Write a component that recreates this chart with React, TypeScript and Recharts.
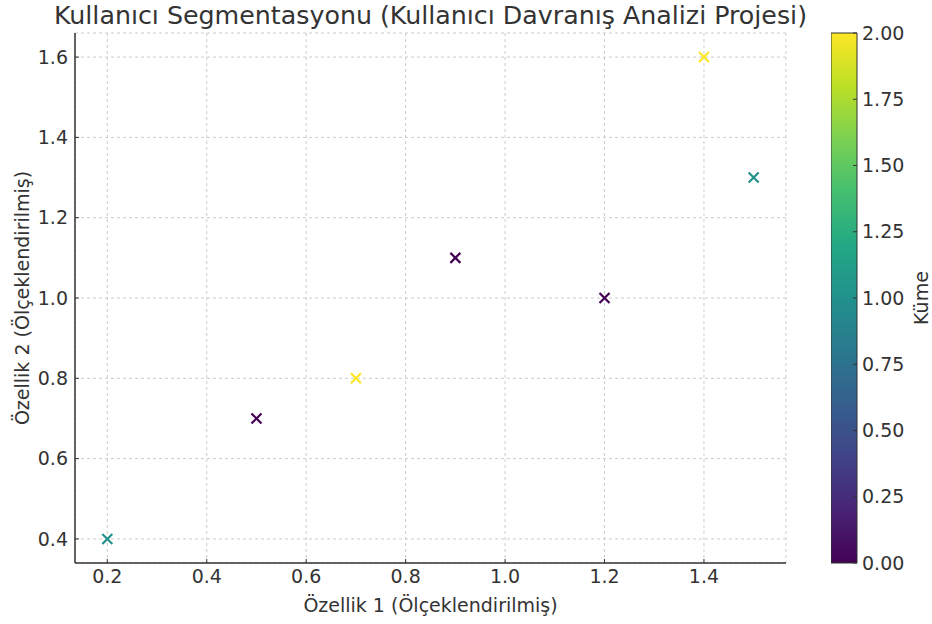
import React from 'react';
import { ScatterChart, Scatter, XAxis, YAxis, CartesianGrid, BarChart, Bar } from 'recharts';

const title = 'Kullanıcı Segmentasyonu (Kullanıcı Davranış Analizi Projesi)';
const xLabel = 'Özellik 1 (Ölçeklendirilmiş)';
const yLabel = 'Özellik 2 (Ölçeklendirilmiş)';
const colorbarLabel = 'Küme';

const feature1 = [0.2, 0.5, 0.7, 0.9, 1.2, 1.4, 1.5];
const feature2 = [0.4, 0.7, 0.8, 1.1, 1.0, 1.6, 1.3];
const clusters = [1, 0, 2, 0, 0, 2, 1];

const xTicks = [0.2, 0.4, 0.6, 0.8, 1.0, 1.2, 1.4];
const yTicks = [0.4, 0.6, 0.8, 1.0, 1.2, 1.4, 1.6];
const colorbarTicks = [0, 0.25, 0.5, 0.75, 1.0, 1.25, 1.5, 1.75, 2.0];

// viridis at 0, 1, 2
const clusterColors = ['#440154', '#21918c', '#fde725'];

const viridisStops = [
  '#440154', '#482475', '#414487', '#355f8d', '#2a788e', '#21918c',
  '#22a884', '#44bf70', '#7ad151', '#bddf26', '#fde725',
];

const FONT = '"DejaVu Sans", sans-serif';
const TEXT = '#333';
const FS = 19;

const points = feature1.map((x, i) => ({ x, y: feature2[i], cluster: clusters[i] }));
const colorbarData = [{ name: 'kume', value: 2 }];

function Cross(props: any) {
  const { cx, cy, payload } = props;
  if (cx == null || cy == null) return null;
  const c = clusterColors[payload.cluster];
  const r = 5;
  return (
    <g stroke={c} strokeWidth={2.2} strokeLinecap="butt">
      <line x1={cx - r} y1={cy - r} x2={cx + r} y2={cy + r} />
      <line x1={cx - r} y1={cy + r} x2={cx + r} y2={cy - r} />
    </g>
  );
}

const tickStyle = { fontSize: FS, fill: TEXT, fontFamily: FONT };

export default function App() {
  return (
    <div style={{ position: 'relative', width: 932, height: 624, background: '#fff', fontFamily: FONT }}>
      <style>{'body{margin:0}'}</style>
      <svg width={0} height={0} style={{ position: 'absolute' }}>
        <defs>
          <linearGradient id="viridis" x1="0" y1="1" x2="0" y2="0">
            {viridisStops.map((c, i) => (
              <stop key={i} offset={i / (viridisStops.length - 1)} stopColor={c} />
            ))}
          </linearGradient>
        </defs>
      </svg>

      <div style={{ position: 'absolute', left: 0, top: 0 }}>
        <ScatterChart width={932} height={624} margin={{ top: 33, right: 146, bottom: 11, left: 15 }}>
          <CartesianGrid stroke="#cccccc" strokeDasharray="3 3" />
          <XAxis
            type="number"
            dataKey="x"
            domain={[0.135, 1.565]}
            ticks={xTicks}
            allowDataOverflow
            tickFormatter={(v: number) => v.toFixed(1)}
            height={50}
            tick={tickStyle}
            tickSize={-4}
            tickMargin={11}
            axisLine={{ stroke: '#333', strokeWidth: 1.5 }}
            tickLine={{ stroke: '#333' }}
            label={{ value: xLabel, position: 'insideBottom', offset: 1, style: { fontSize: FS, fill: TEXT, fontFamily: FONT } }}
          />
          <YAxis
            type="number"
            dataKey="y"
            domain={[0.34, 1.66]}
            ticks={yTicks}
            allowDataOverflow
            tickFormatter={(v: number) => v.toFixed(1)}
            width={60}
            tick={tickStyle}
            tickSize={-4}
            tickMargin={11}
            axisLine={{ stroke: '#333', strokeWidth: 1.5 }}
            tickLine={{ stroke: '#333' }}
            label={{ value: yLabel, angle: -90, position: 'insideLeft', offset: 7, style: { textAnchor: 'middle', fontSize: FS, fill: TEXT, fontFamily: FONT } }}
          />
          <Scatter data={points} shape={Cross} isAnimationActive={false} />
        </ScatterChart>
      </div>

      <div style={{ position: 'absolute', left: 831, top: 0 }}>
        <BarChart width={101} height={624} data={colorbarData} barCategoryGap={0} margin={{ top: 33, right: 0, bottom: 61, left: 0 }}>
          <XAxis dataKey="name" hide />
          <YAxis
            orientation="right"
            type="number"
            domain={[0, 2]}
            ticks={colorbarTicks}
            tickFormatter={(v: number) => v.toFixed(2)}
            width={75}
            tick={tickStyle}
            tickSize={-4}
            tickMargin={9}
            axisLine={false}
            tickLine={{ stroke: '#333' }}
            label={{ value: colorbarLabel, angle: -90, position: 'insideRight', offset: 11, style: { textAnchor: 'middle', fontSize: FS, fill: TEXT, fontFamily: FONT } }}
          />
          <Bar dataKey="value" fill="url(#viridis)" stroke="#333" strokeWidth={1} isAnimationActive={false} />
        </BarChart>
      </div>

      <svg width={932} height={40} style={{ position: 'absolute', left: 0, top: 0, pointerEvents: 'none' }}>
        <text x={430.5} y={24} textAnchor="middle" fontSize={25.3} fill={TEXT} fontFamily={FONT}>
          {title}
        </text>
      </svg>
    </div>
  );
}
